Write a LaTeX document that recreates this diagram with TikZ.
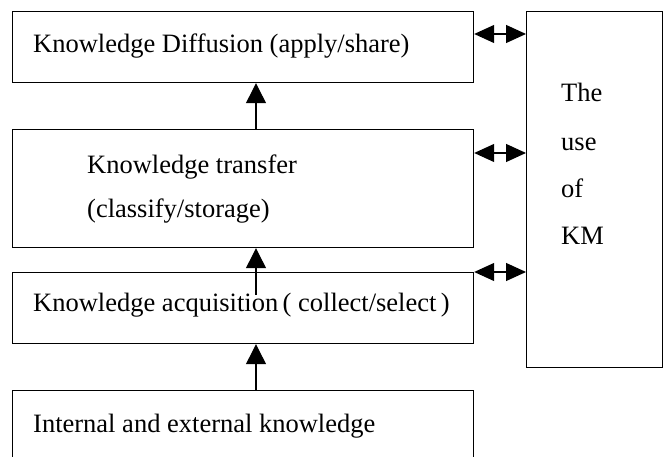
\documentclass[tikz,border=0pt]{standalone}
\usepackage{fontspec}
\setmainfont{Liberation Serif}
\usetikzlibrary{arrows.meta}
\begin{document}
\begin{tikzpicture}[x=1pt,y=-1pt,
  box/.style={draw,line width=1.2pt,rectangle,inner sep=0pt,anchor=north west},
  lbl/.style={anchor=base west,inner sep=0pt,font=\fontsize{26.5}{30}\selectfont},
  uparrow/.style={line width=1.2pt,-{Triangle[length=20pt,width=20pt]}},
  dblarrow/.style={line width=1.2pt,{Triangle[length=20pt,width=18pt]}-{Triangle[length=20pt,width=18pt]}}]
\useasboundingbox (0,0) rectangle (665,457);
\clip (0,0) rectangle (665,457);
% boxes
\node[box,minimum width=461pt,minimum height=71pt] (b1) at (12,11) {};
\node[box,minimum width=461pt,minimum height=118pt] (b2) at (12,129) {};
\node[box,minimum width=461pt,minimum height=71pt] (b3) at (12,272) {};
\node[box,minimum width=461pt,minimum height=90pt] (b4) at (12,390) {};
\node[box,minimum width=136pt,minimum height=356pt] (km) at (526,11) {};
% texts
\node[lbl] (t1) at (33,53) {Knowledge Diffusion (apply/share)};
\node[lbl] (t2a) at (87,174) {Knowledge transfer};
\node[lbl] (t2b) at (87,218) {(classify/storage)};
\node[lbl] (t3) at (33,312) {Knowledge acquisition\,( collect/select\,)};
\node[lbl] (t4) at (33,433) {Internal and external knowledge};
\node[lbl] (k1) at (561,102) {The};
\node[lbl] (k2) at (561,151) {use};
\node[lbl] (k3) at (561,198) {of};
\node[lbl] (k4) at (561,245) {KM};
% vertical arrows
\coordinate (ax) at (256,0);
\coordinate (s2) at (256,295);
\draw[uparrow] (b2.north -| ax) -- (b1.south -| ax);
\draw[uparrow] (s2) -- (b2.south -| s2);
\draw[uparrow] (b4.north -| ax) -- (b3.south -| ax);
% double arrows
\coordinate (d1) at (473,34);
\coordinate (d2) at (473,153);
\draw[dblarrow] (b1.east |- d1) -- (km.west |- d1);
\draw[dblarrow] (b2.east |- d2) -- (km.west |- d2);
\draw[dblarrow] (b3.north east) -- (km.west |- b3.north east);
\end{tikzpicture}
\end{document}
